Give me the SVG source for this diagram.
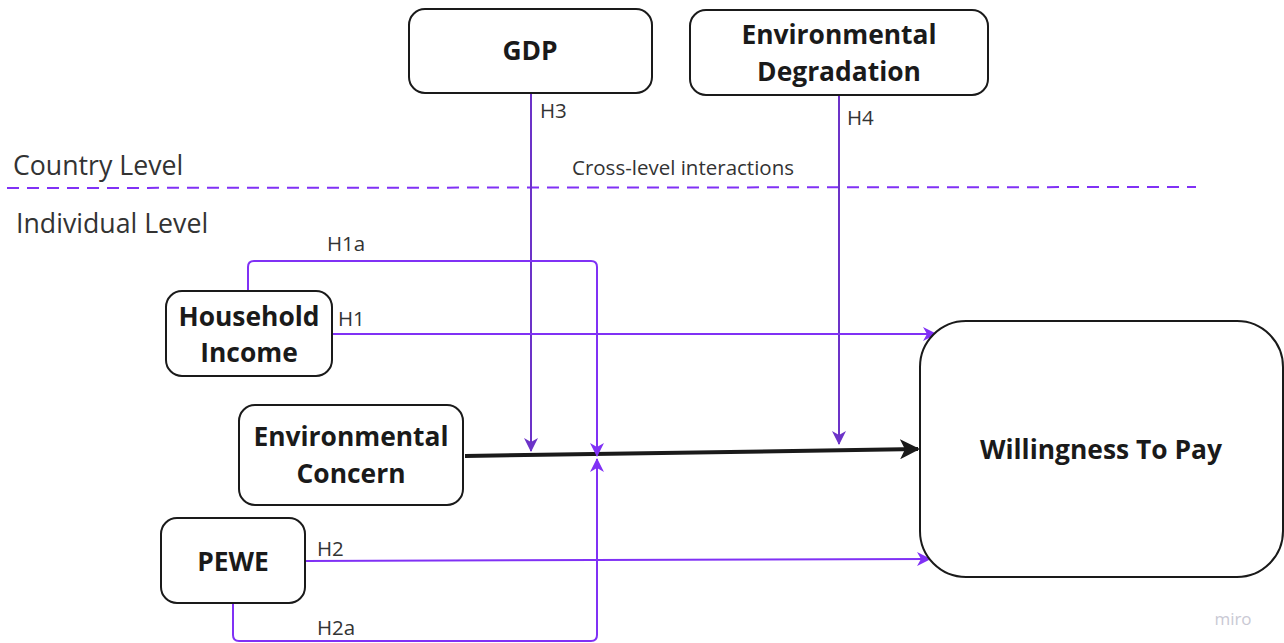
<svg xmlns="http://www.w3.org/2000/svg" width="1284" height="643" viewBox="0 0 1284 643">
<style>
.node{fill:#fff;stroke:#1a1a1a;stroke-width:2}
.nt{font-family:"Open Sans","Liberation Sans",sans-serif;font-weight:bold;font-size:26.4px;fill:#1a1a1a;text-anchor:middle}
.lb{font-family:"Open Sans","Liberation Sans",sans-serif;font-size:20.5px;fill:#333}
.lv{font-family:"Open Sans","Liberation Sans",sans-serif;font-size:26.7px;fill:#333}
.p{fill:none;stroke:#8031f5;stroke-width:2}
.pd{fill:none;stroke:#6c33c8;stroke-width:2}
</style>
<defs>
<marker id="ap" markerWidth="14" markerHeight="14" refX="13" refY="7" orient="auto" markerUnits="userSpaceOnUse"><path d="M0,0 L14,7 L0,14 L4,7 Z" fill="#8031f5"/></marker>
<marker id="apd" markerWidth="14" markerHeight="14" refX="13" refY="7" orient="auto" markerUnits="userSpaceOnUse"><path d="M0,0 L14,7 L0,14 L4,7 Z" fill="#6c33c8"/></marker>
<marker id="ab" markerWidth="20" markerHeight="20" refX="18" refY="10" orient="auto" markerUnits="userSpaceOnUse"><path d="M0,0 L20,10 L0,20 L5,10 Z" fill="#1a1a1a"/></marker>
</defs>
<text class="lv" x="13" y="175">Country Level</text>
<text class="lv" x="16" y="233">Individual Level</text>
<text class="lb" x="572" y="175">Cross-level interactions</text>
<g id="connectors">
<line x1="7" y1="188" x2="1196" y2="187" stroke="#8031f5" stroke-width="2" stroke-dasharray="12 8"/>
<path class="pd" d="M531,94 V451" marker-end="url(#apd)"/>
<path class="pd" d="M839,96 V444" marker-end="url(#apd)"/>
<path d="M465,456 L918,449" stroke="#1a1a1a" stroke-width="4" fill="none" marker-end="url(#ab)"/>
<path class="p" d="M248,291 V267 Q248,261 254,261 H591 Q597,261 597,267 V456" marker-end="url(#ap)"/>
<path class="p" d="M233,604 V635 Q233,641 239,641 H591 Q597,641 597,635 V459" marker-end="url(#ap)"/>
<path class="p" d="M332,334 H936" marker-end="url(#ap)"/>
<path class="p" d="M305,561 L930,559" marker-end="url(#ap)"/>
<text class="lb" x="540" y="118">H3</text>
<text class="lb" x="847" y="125">H4</text>
<text class="lb" x="327" y="251">H1a</text>
<text class="lb" x="338" y="326">H1</text>
<text class="lb" x="317" y="556">H2</text>
<text class="lb" x="317" y="635">H2a</text>
</g>
<g id="gdp"><rect class="node" x="409" y="9" width="243" height="84" rx="16"/><text class="nt" x="530" y="60">GDP</text></g>
<g id="envdeg"><rect class="node" x="690" y="10" width="298" height="85" rx="16"/><text class="nt" x="839" y="44">Environmental</text><text class="nt" x="839" y="81">Degradation</text></g>
<g id="income"><rect class="node" x="166" y="291" width="166" height="85" rx="16"/><text class="nt" x="249" y="326">Household</text><text class="nt" x="249" y="362">Income</text></g>
<g id="concern"><rect class="node" x="239" y="405" width="224" height="100" rx="16"/><text class="nt" x="351" y="446">Environmental</text><text class="nt" x="351" y="483">Concern</text></g>
<g id="pewe"><rect class="node" x="161" y="518" width="144" height="85" rx="16"/><text class="nt" x="233" y="571">PEWE</text></g>
<g id="wtp"><rect class="node" x="920" y="321" width="363" height="256" rx="46"/><text class="nt" x="1101" y="459">Willingness To Pay</text></g>
<text x="1233" y="625" font-family="'Open Sans','Liberation Sans',sans-serif" font-size="17" fill="#c9c9d4" text-anchor="middle">miro</text>
</svg>
